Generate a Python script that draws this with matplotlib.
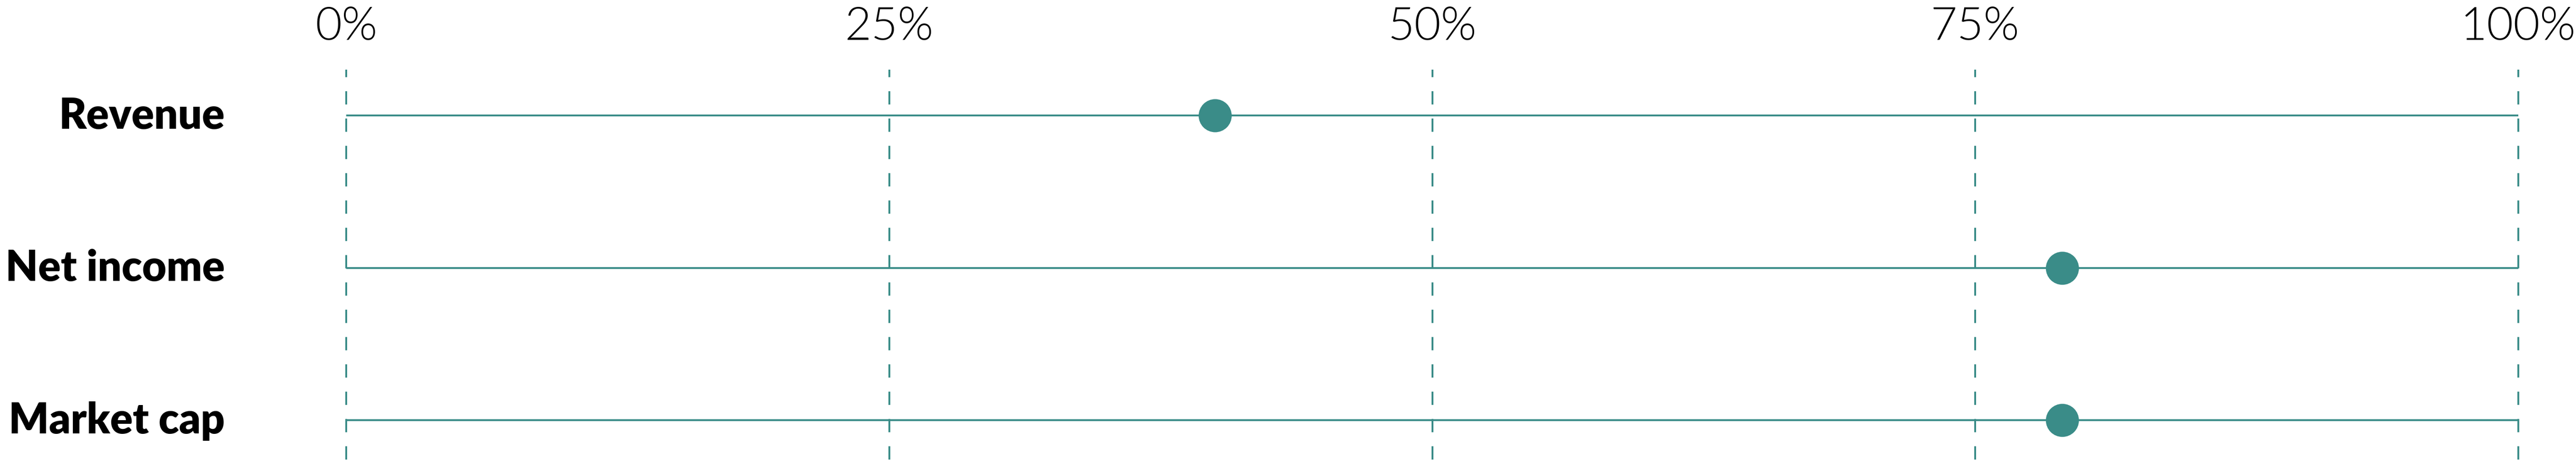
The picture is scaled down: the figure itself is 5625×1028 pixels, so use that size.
import matplotlib.pyplot as plt
from matplotlib import transforms

metrics = ["Revenue", "Net income", "Market cap"]
percent = [40, 79, 79]
ticks = [0, 25, 50, 75, 100]
tick_labels = ["0%", "25%", "50%", "75%", "100%"]

teal = "#3a8c88"
W, H = 5625, 1028
dpi = 100

fig = plt.figure(figsize=(W / dpi, H / dpi), dpi=dpi)

# axes placed so 0..100 spans the gridline positions of the reference
left, right = 756 / W, 5499 / W
top_px, bot_px = 152, 1003
ax = fig.add_axes([left, 1 - bot_px / H, right - left, (bot_px - top_px) / H])
ax.set_xlim(0, 100)
row_px = 332.5
ax.set_ylim((bot_px - 252) / row_px, -(252 - top_px) / row_px)
ax.axis("off")

for t in ticks:
    ax.axvline(t, color=teal, lw=2.9, dashes=(7.2, 7.6), zorder=1, clip_on=False)

for i, (name, val) in enumerate(zip(metrics, percent)):
    ax.hlines(i, 0, 100, color=teal, lw=2.9, zorder=2)
    ax.plot(val, i, "o", ms=52, color=teal, mec="none", zorder=3, clip_on=False)

# tick labels on top
tr = transforms.blended_transform_factory(ax.transData, fig.transFigure)
for t, lab in zip(ticks, tick_labels):
    ax.text(t, 1 - 87 / H, lab, transform=tr, ha="center", va="baseline",
            fontsize=72, family="Lato", weight=300, color="black")

# row labels
tr2 = transforms.blended_transform_factory(fig.transFigure, ax.transData)
for i, name in enumerate(metrics):
    ax.text(491 / W, i + 28.6 / row_px, name, transform=tr2, ha="right",
            va="baseline", fontsize=66, family="Lato", weight=800,
            color="black")

fig.savefig("out.png", dpi=dpi, facecolor="white")
